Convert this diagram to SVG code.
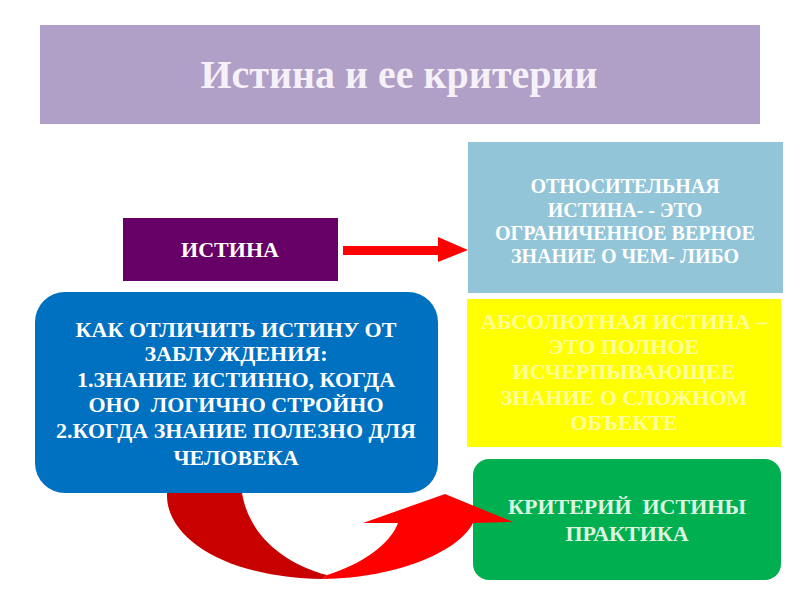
<svg xmlns="http://www.w3.org/2000/svg" width="800" height="600" viewBox="0 0 800 600">
  <style>
    .t { font-family: "Liberation Serif", "Times New Roman", serif; font-weight: bold; text-anchor: middle; }
    .title { font-size: 40px; fill: #F6F0F8; }
    .w20 { font-size: 20px; fill: #FFFFFF; }
    .w22 { font-size: 22px; fill: #FFFFFF; }
    .y22 { font-size: 22px; fill: #FFFF99; }
    .b22 { font-size: 22px; fill: #FFFFFF; }
    .g22 { font-size: 22px; fill: #DDF5E0; }
  </style>
  <rect width="800" height="600" fill="#FFFFFF"/>

  <g id="title">
    <rect x="40" y="25" width="720" height="99" fill="#B09FC6"/>
    <text class="t title" x="399" y="88">Истина и ее критерии</text>
  </g>

  <g id="relative">
    <rect x="468" y="142" width="315" height="151" fill="#92C5D8"/>
    <text class="t w20" x="625" y="193">ОТНОСИТЕЛЬНАЯ</text>
    <text class="t w20" x="625" y="217">ИСТИНА- - ЭТО</text>
    <text class="t w20" x="625" y="240">ОГРАНИЧЕННОЕ ВЕРНОЕ</text>
    <text class="t w20" x="625" y="263">ЗНАНИЕ О ЧЕМ- ЛИБО</text>
  </g>

  <g id="absolute">
    <rect x="467" y="299" width="314" height="148" fill="#FFFF00"/>
    <text class="t y22" x="624" y="329">АБСОЛЮТНАЯ ИСТИНА –</text>
    <text class="t y22" x="624" y="354">ЭТО ПОЛНОЕ</text>
    <text class="t y22" x="624" y="379">ИСЧЕРПЫВАЮЩЕЕ</text>
    <text class="t y22" x="624" y="405">ЗНАНИЕ О СЛОЖНОМ</text>
    <text class="t y22" x="624" y="430">ОБЪЕКТЕ</text>
  </g>

  <g id="truth">
    <rect x="123" y="218" width="215" height="63" fill="#660066"/>
    <text class="t w22" x="230" y="257">ИСТИНА</text>
  </g>

  <g id="criterion">
    <rect x="473" y="459" width="308" height="121" rx="16" ry="16" fill="#00B050"/>
    <text class="t g22" x="627" y="514" xml:space="preserve">КРИТЕРИЙ  ИСТИНЫ</text>
    <text class="t g22" x="627" y="541">ПРАКТИКА</text>
  </g>

  <g id="connectors">
    <polygon points="343,246 438,246 438,237 468,250 438,262 438,255 343,255" fill="#FF0000"/>
    <path d="M167,480 L167,493 C165,540 230,578 322,579 L327,575 C290,565 250,540 242,493 L242,480 Z" fill="#C80000"/>
    <path d="M327,575 C360,565 390,545 398,523 L363,523 L445,494 L513,522 L473,523 C460,550 400,578 322,579 Z" fill="#FF0000"/>
  </g>

  <g id="howto">
    <rect x="35" y="292" width="403" height="201" rx="30" ry="30" fill="#0070C0"/>
    <text class="t b22" x="236" y="337">КАК ОТЛИЧИТЬ ИСТИНУ ОТ</text>
    <text class="t b22" x="236" y="361">ЗАБЛУЖДЕНИЯ:</text>
    <text class="t b22" x="236" y="387">1.ЗНАНИЕ ИСТИННО, КОГДА</text>
    <text class="t b22" x="236" y="412" xml:space="preserve">ОНО  ЛОГИЧНО СТРОЙНО</text>
    <text class="t b22" x="236" y="438">2.КОГДА ЗНАНИЕ ПОЛЕЗНО ДЛЯ</text>
    <text class="t b22" x="236" y="465">ЧЕЛОВЕКА</text>
  </g>
</svg>
